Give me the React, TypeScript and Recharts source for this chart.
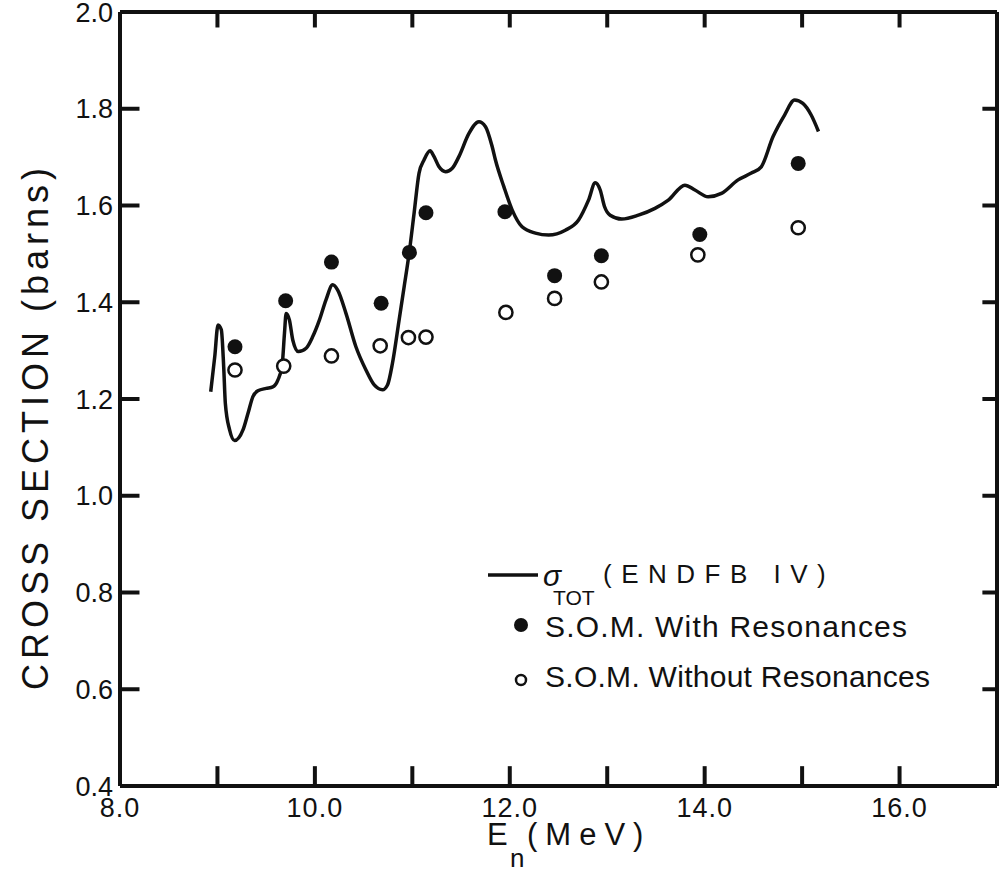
import { ComposedChart, Line, Scatter, XAxis, YAxis, Legend, ReferenceLine } from 'recharts'

// ENDF/B-IV total cross section curve (MeV, barns)
const curveEnergy = [
  8.931, 8.972, 9.006, 9.04, 9.064, 9.081, 9.125, 9.176, 9.262, 9.313, 9.364, 9.415, 9.501, 9.568, 9.62,
  9.664, 9.688, 9.705, 9.739, 9.773, 9.831, 9.91, 9.978, 10.046, 10.114, 10.183, 10.234, 10.319, 10.421,
  10.524, 10.609, 10.694, 10.745, 10.796, 10.864, 10.916, 10.967, 11.018, 11.069, 11.12, 11.182, 11.223,
  11.274, 11.342, 11.41, 11.478, 11.581, 11.683, 11.751, 11.819, 11.853, 11.939, 12.024, 12.126, 12.263,
  12.399, 12.57, 12.706, 12.808, 12.877, 12.928, 12.972, 13.03, 13.149, 13.32, 13.49, 13.627, 13.797,
  13.9, 14.036, 14.172, 14.343, 14.479, 14.581, 14.701, 14.82, 14.923, 15.008, 15.093, 15.168,
]
const curveSigma = [
  1.215, 1.287, 1.353, 1.343, 1.267, 1.191, 1.136, 1.114, 1.136, 1.17, 1.205, 1.217, 1.222, 1.225, 1.239,
  1.27, 1.336, 1.377, 1.363, 1.322, 1.298, 1.305, 1.329, 1.363, 1.405, 1.436, 1.425, 1.377, 1.308,
  1.26, 1.229, 1.219, 1.229, 1.274, 1.363, 1.432, 1.501, 1.584, 1.667, 1.694, 1.713, 1.701,
  1.68, 1.67, 1.677, 1.701, 1.749, 1.773, 1.763, 1.722, 1.694, 1.639, 1.591, 1.556, 1.543,
  1.539, 1.549, 1.57, 1.611, 1.647, 1.632, 1.598, 1.58, 1.572, 1.58, 1.594, 1.611, 1.642,
  1.632, 1.618, 1.625, 1.653, 1.667, 1.68, 1.742, 1.787, 1.818, 1.811, 1.787, 1.753,
]

// S.O.M. with resonances (filled)
const withResEnergy = [9.18, 9.7, 10.17, 10.68, 10.97, 11.14, 11.95, 12.46, 12.94, 13.95, 14.96]
const withResSigma = [1.308, 1.403, 1.483, 1.398, 1.503, 1.585, 1.587, 1.455, 1.496, 1.54, 1.687]

// S.O.M. without resonances (open)
const noResEnergy = [9.18, 9.68, 10.17, 10.67, 10.96, 11.14, 11.96, 12.46, 12.94, 13.93, 14.96]
const noResSigma = [1.26, 1.268, 1.289, 1.31, 1.327, 1.328, 1.379, 1.408, 1.442, 1.498, 1.554]

const xTicks = [8, 9, 10, 11, 12, 13, 14, 15, 16, 17]
const yTicks = [0.4, 0.6, 0.8, 1.0, 1.2, 1.4, 1.6, 1.8, 2.0]
const xInner = [9, 10, 11, 12, 13, 14, 15, 16]
const yInner = [0.6, 0.8, 1.0, 1.2, 1.4, 1.6, 1.8]

const X_MIN = 8
const X_MAX = 17
const Y_MIN = 0.4
const Y_MAX = 2.0

const INK = '#111'
const FONT = '"Liberation Sans", Arial, sans-serif'

const curveData = curveEnergy.map((e, i) => ({ e, s: curveSigma[i] }))
const withResData = withResEnergy.map((e, i) => ({ e, s: withResSigma[i] }))
const noResData = noResEnergy.map((e, i) => ({ e, s: noResSigma[i] }))

// inward tick mark lengths, in axis units
const tickLenBottom = 0.041
const tickLenTop = 0.032
const tickLenLeft = 0.2
const tickLenRight = 0.15

const frameStyle = { stroke: INK, strokeWidth: 4 }
const tickText = { fill: INK, fontSize: 27, fontFamily: FONT }

const bottomLabel = (v: number) => (v % 2 === 0 && v < 17 ? v.toFixed(1) : '')
const leftLabel = (v: number) => v.toFixed(1)

function XTitle({ viewBox }: any) {
  const x0 = viewBox.x + 367
  const base = viewBox.y + 59
  return (
    <text x={x0} y={base} fontSize={31} fontFamily={FONT} fill={INK}>
      E
      <tspan x={x0 + 23} y={base + 22} fontSize={26}>n</tspan>
      <tspan x={x0 + 40} y={base} fontSize={31} letterSpacing={8}>(MeV)</tspan>
    </text>
  )
}

function YTitle({ viewBox }: any) {
  const cx = viewBox.x + 48
  const cy = viewBox.y + viewBox.height / 2 + 30
  return (
    <text
      x={cx}
      y={cy}
      transform={`rotate(-90 ${cx} ${cy})`}
      textAnchor="middle"
      fontSize={36}
      fontFamily={FONT}
      fill={INK}
      textLength={522}
      lengthAdjust="spacing"
    >
      CROSS SECTION (barns)
    </text>
  )
}

function FilledDot({ cx, cy }: any) {
  return <circle cx={cx} cy={cy} r={7.5} fill={INK} />
}

function OpenDot({ cx, cy }: any) {
  return <circle cx={cx} cy={cy} r={6.6} fill="#fff" stroke={INK} strokeWidth={2.5} />
}

function LegendBox() {
  return (
    <svg width={480} height={150} style={{ display: 'block' }} fontFamily={FONT} fill={INK}>
      <line x1={8} y1={25} x2={58} y2={25} stroke={INK} strokeWidth={3.5} />
      <text x={63} y={36} fontSize={30} fontStyle="italic">
        σ
        <tspan x={73} y={55} fontSize={21} fontStyle="normal">TOT</tspan>
        <tspan x={123} y={33} fontSize={26} fontStyle="normal" letterSpacing={9.5}>(ENDFB IV)</tspan>
      </text>
      <circle cx={41} cy={75} r={7} fill={INK} />
      <text x={65} y={87} fontSize={30} textLength={362} lengthAdjust="spacing">S.O.M. With Resonances</text>
      <circle cx={41} cy={130} r={5} fill="#fff" stroke={INK} strokeWidth={2.5} />
      <text x={65} y={137} fontSize={30} textLength={385} lengthAdjust="spacing">S.O.M. Without Resonances</text>
    </svg>
  )
}

export default function App() {
  return (
    <div style={{ position: 'absolute', left: 0, top: 0, background: '#fff' }}>
      <ComposedChart width={999} height={873} margin={{ top: 0, right: 0, bottom: 0, left: 0 }}>
        <XAxis
          dataKey="e"
          type="number"
          domain={[X_MIN, X_MAX]}
          ticks={xTicks}
          allowDataOverflow
          height={87}
          tickSize={0}
          tickMargin={12}
          tickLine={false}
          tick={{ ...tickText, letterSpacing: 1 }}
          tickFormatter={bottomLabel}
          interval={0}
          axisLine={frameStyle}
          label={<XTitle />}
        />
        <XAxis
          xAxisId="top"
          orientation="top"
          type="number"
          domain={[X_MIN, X_MAX]}
          allowDataOverflow
          height={12}
          tickLine={false}
          tick={false}
          axisLine={frameStyle}
        />
        <YAxis
          dataKey="s"
          type="number"
          domain={[Y_MIN, Y_MAX]}
          ticks={yTicks}
          allowDataOverflow
          width={120}
          tickSize={0}
          tickMargin={7}
          tickLine={false}
          tick={tickText}
          tickFormatter={leftLabel}
          interval={0}
          axisLine={frameStyle}
          label={<YTitle />}
        />
        <YAxis
          yAxisId="right"
          orientation="right"
          type="number"
          domain={[Y_MIN, Y_MAX]}
          allowDataOverflow
          width={2}
          tickLine={false}
          tick={false}
          axisLine={frameStyle}
        />
        {xInner.map((v) => (
          <ReferenceLine
            key={`b${v}`}
            segment={[{ x: v, y: Y_MIN }, { x: v, y: Y_MIN + tickLenBottom }]}
            stroke={INK}
            strokeWidth={4}
            ifOverflow="visible"
          />
        ))}
        {xInner.map((v) => (
          <ReferenceLine
            key={`t${v}`}
            segment={[{ x: v, y: Y_MAX }, { x: v, y: Y_MAX - tickLenTop }]}
            stroke={INK}
            strokeWidth={4}
            ifOverflow="visible"
          />
        ))}
        {yInner.map((v) => (
          <ReferenceLine
            key={`l${v}`}
            segment={[{ x: X_MIN, y: v }, { x: X_MIN + tickLenLeft, y: v }]}
            stroke={INK}
            strokeWidth={4}
            ifOverflow="visible"
          />
        ))}
        {yInner.map((v) => (
          <ReferenceLine
            key={`r${v}`}
            segment={[{ x: X_MAX, y: v }, { x: X_MAX - tickLenRight, y: v }]}
            stroke={INK}
            strokeWidth={4}
            ifOverflow="visible"
          />
        ))}
        <Line
          data={curveData}
          dataKey="s"
          type="monotone"
          stroke={INK}
          strokeWidth={3.5}
          dot={false}
          activeDot={false}
          isAnimationActive={false}
        />
        <Scatter data={withResData} dataKey="s" shape={<FilledDot />} isAnimationActive={false} />
        <Scatter data={noResData} dataKey="s" shape={<OpenDot />} isAnimationActive={false} />
        <Legend
          layout="horizontal"
          verticalAlign="middle"
          align="center"
          content={<LegendBox />}
          wrapperStyle={{ left: 480, top: 550, width: 480, height: 150 }}
        />
      </ComposedChart>
    </div>
  )
}
